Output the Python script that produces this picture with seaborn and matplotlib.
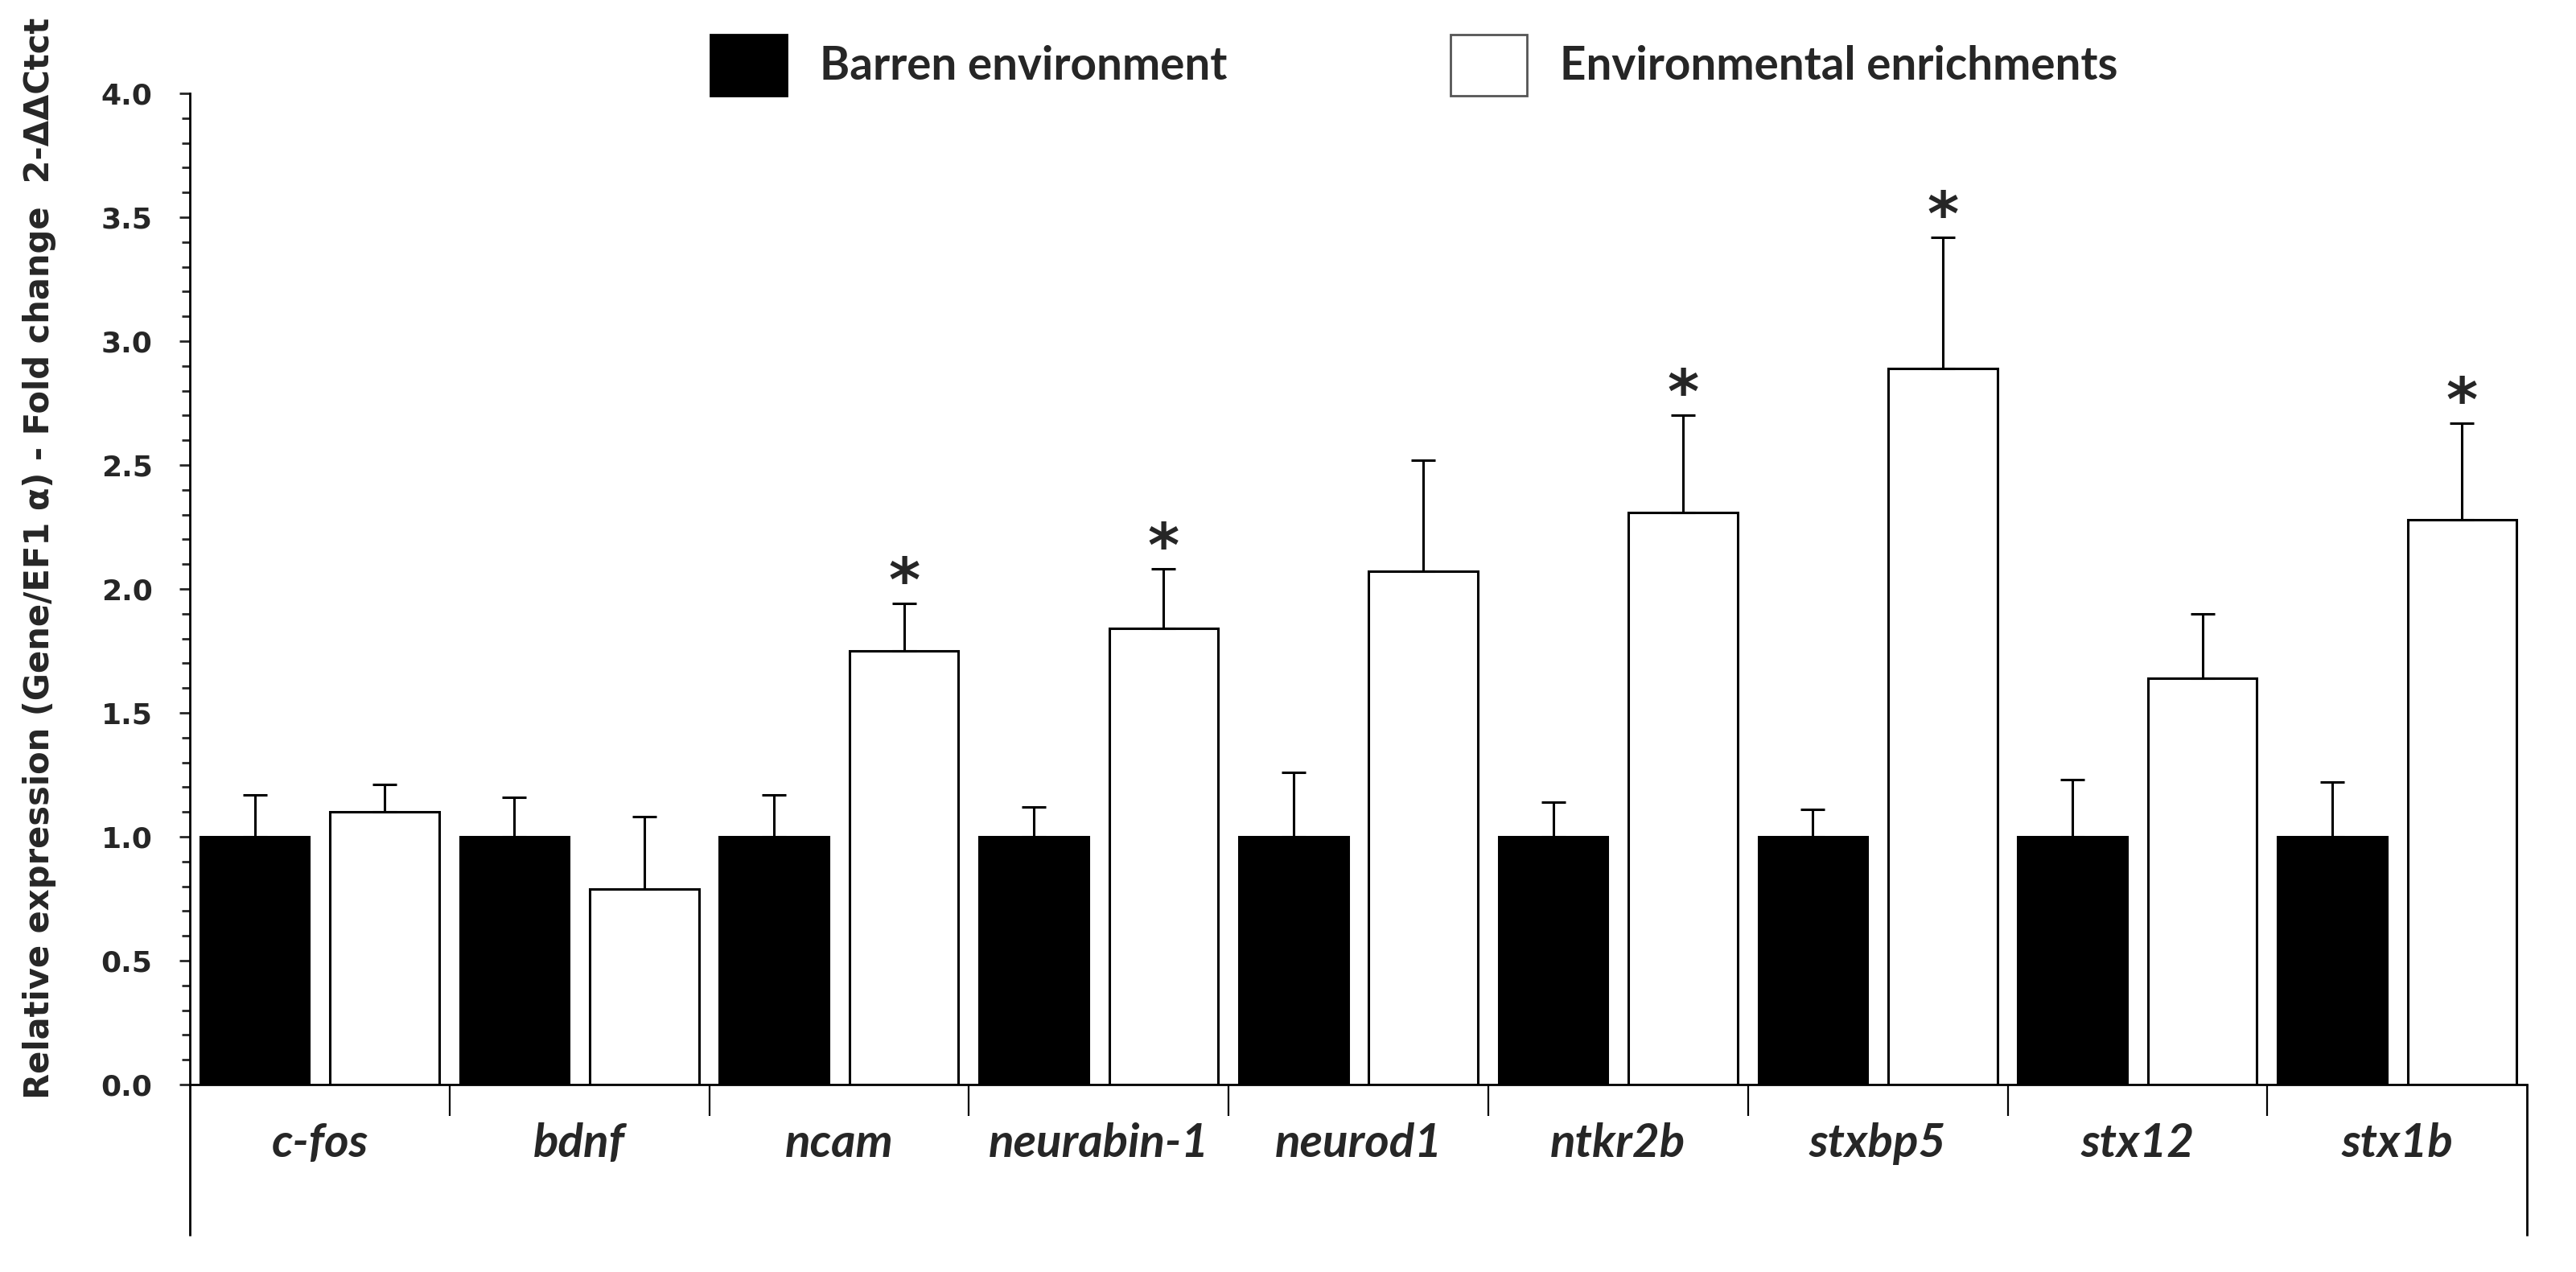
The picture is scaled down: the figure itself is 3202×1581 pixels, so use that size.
import numpy as np
import pandas as pd
import seaborn as sns
import matplotlib.pyplot as plt
from matplotlib.patches import Patch
from matplotlib.ticker import MultipleLocator

# data
genes = ["c-fos", "bdnf", "ncam", "neurabin-1", "neurod1", "ntkr2b", "stxbp5", "stx12", "stx1b"]
groups = ["Barren environment", "Environmental enrichments"]
barren_mean = [1.0, 1.0, 1.0, 1.0, 1.0, 1.0, 1.0, 1.0, 1.0]
barren_err = [0.17, 0.16, 0.17, 0.12, 0.26, 0.14, 0.11, 0.23, 0.22]
enriched_mean = [1.10, 0.79, 1.75, 1.84, 2.07, 2.31, 2.89, 1.64, 2.28]
enriched_err = [0.11, 0.29, 0.19, 0.24, 0.45, 0.39, 0.53, 0.26, 0.39]
significant = [False, False, True, True, False, True, True, False, True]
y_ticks = [0.0, 0.5, 1.0, 1.5, 2.0, 2.5, 3.0, 3.5, 4.0]

df = pd.DataFrame({
    "gene": genes * 2,
    "group": [groups[0]] * len(genes) + [groups[1]] * len(genes),
    "value": barren_mean + enriched_mean,
})

sns.set_style("white")
plt.rcParams["font.family"] = ["DejaVu Sans"]

fig = plt.figure(figsize=(16.01, 7.905), dpi=200)
ax = fig.add_axes([0.0737, 0.1474, 0.9073, 0.7792])

palette = {groups[0]: "black", groups[1]: "white"}
sns.barplot(data=df, x="gene", y="value", hue="group", order=genes, hue_order=groups,
            palette=palette, edgecolor="black", linewidth=1.1, width=1.0, gap=0.16,
            errorbar=None, legend=False, ax=ax)

# one-sided error bars + stars
for cont, means, errs in zip(ax.containers, [barren_mean, enriched_mean], [barren_err, enriched_err]):
    xs = [b.get_x() + b.get_width() / 2 for b in cont]
    ax.errorbar(xs, means, yerr=[np.zeros(len(errs)), errs], fmt="none", ecolor="black",
                elinewidth=1.1, capsize=5.4, capthick=1.1, zorder=3)
    if means is enriched_mean:
        for x, m, e, s in zip(xs, means, errs, significant):
            if s:
                ax.text(x, m + e + 0.01, "*", ha="center", va="baseline", fontsize=27,
                        fontweight="bold")

ax.set_xlim(-0.5, len(genes) - 0.5)
ax.set_ylim(0, 4.0)
ax.set_yticks(y_ticks)
ax.set_yticklabels([f"{t:.1f}" for t in y_ticks], fontsize=13, fontweight="bold")
ax.yaxis.set_minor_locator(MultipleLocator(0.1))
ax.tick_params(axis="y", which="major", direction="out", length=4.7, width=1.0, pad=12, left=True)
ax.tick_params(axis="y", which="minor", direction="out", length=3.6, width=1.0, left=True)

ax.set_xlabel("")
ax.tick_params(axis="x", length=0, pad=17)
for lab in ax.get_xticklabels():
    lab.set_fontfamily("Lato")
    lab.set_fontstyle("italic")
    lab.set_fontweight("bold")
    lab.set_fontsize(21)

ax.set_ylabel("Relative expression (Gene/EF1 \u03b1) - Fold change  2-\u0394\u0394Ctct",
              fontsize=15, fontweight="bold")
ax.yaxis.set_label_coords(-0.057, 0.531)

for side in ["top", "right"]:
    ax.spines[side].set_visible(False)
for side in ["left", "bottom"]:
    ax.spines[side].set_linewidth(1.0)
    ax.spines[side].set_color("black")

# Excel style category dividers below the axis
inner = np.arange(0.5, len(genes) - 1, 1.0)
ax.vlines(inner, -0.127, 0, colors="black", linewidth=0.8, clip_on=False)
ax.vlines([-0.5, len(genes) - 0.5], -0.61, 0, colors="black", linewidth=1.0, clip_on=False)

handles = [Patch(facecolor="black", edgecolor="black"),
           Patch(facecolor="white", edgecolor="#555555", linewidth=1.0)]
fig.legend(handles, groups, loc="center", bbox_to_anchor=(0.549, 0.949), ncol=2, frameon=False,
           handlelength=1.68, handleheight=1.68, handletextpad=0.72, columnspacing=4.9,
           prop={"family": "Lato", "weight": "bold", "size": 20.4})

fig.savefig("out.png", dpi=200, facecolor="white")
